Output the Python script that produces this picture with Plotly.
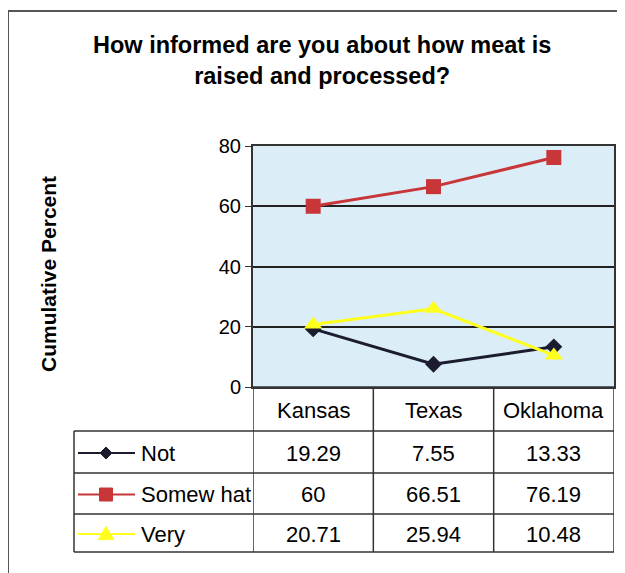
import plotly.graph_objects as go

states = ["Kansas", "Texas", "Oklahoma"]
not_vals = [19.29, 7.55, 13.33]
somewhat_vals = [60, 66.51, 76.19]
very_vals = [20.71, 25.94, 10.48]
series_names = ["Not", "Somew hat", "Very"]
y_ticks = [0, 20, 40, 60, 80]

# the page body has an 8px margin, so the figure is shrunk and shifted to fit the window
OFF = 8
W, H = 625 - OFF, 573 - OFF
FONT = "Liberation Sans, Arial, sans-serif"


def px(x):
    return (x - OFF) / W


def py(y):
    return 1 - (y - OFF) / H


def glyph(symbol, cx, cy, r):
    # small legend key drawn as an svg path in paper units (cx, cy, r in pixels)
    if symbol == "diamond":
        pts = [(cx, cy - r), (cx + r, cy), (cx, cy + r), (cx - r, cy)]
    elif symbol == "square":
        pts = [(cx - r, cy - r), (cx + r, cy - r), (cx + r, cy + r), (cx - r, cy + r)]
    else:
        pts = [(cx, cy - r * 1.1), (cx + r * 1.1, cy + r * 0.8), (cx - r * 1.1, cy + r * 0.8)]
    return "M " + " L ".join(f"{px(x):.5f},{py(y):.5f}" for x, y in pts) + " Z"


series = [
    (series_names[0], not_vals, "#1c1c30", "diamond", 13, 6),
    (series_names[1], somewhat_vals, "#c8363a", "square", 15, 6.5),
    (series_names[2], very_vals, "#ffff1e", "triangle-up", 16, 7),
]

fig = go.Figure()
for name, vals, color, symbol, size, r in series:
    fig.add_trace(go.Scatter(
        x=states, y=vals, name=name, mode="lines+markers",
        line=dict(color=color, width=3),
        marker=dict(symbol=symbol, size=size, color=color),
        showlegend=False, cliponaxis=False
    ))

row_edges = [387, 431, 473, 514, 552]
col_left = 74
shapes = []
annotations = []

# plot background
shapes.append(dict(type="rect", xref="x domain", yref="y domain", x0=0, x1=1, y0=0, y1=1,
                   fillcolor="#dbedf7", line=dict(width=0), layer="below"))

# outer frame
shapes.append(dict(type="line", xref="paper", yref="paper", x0=px(8), x1=1.01, y0=py(11), y1=py(11),
                   line=dict(color="#555", width=2)))
shapes.append(dict(type="line", xref="paper", yref="paper", x0=px(8), x1=px(8), y0=py(11), y1=-0.01,
                   line=dict(color="#555", width=2)))

# table grid
for i, y in enumerate(row_edges):
    x0 = px(253) if i == 0 else px(col_left)
    shapes.append(dict(type="line", xref="paper", yref="paper", x0=x0, x1=px(614), y0=py(y), y1=py(y),
                       line=dict(color="#333", width=1.5)))
shapes.append(dict(type="line", xref="paper", yref="paper", x0=px(col_left), x1=px(col_left),
                   y0=py(row_edges[1]), y1=py(row_edges[-1]), line=dict(color="#333", width=1.5)))
for k in range(len(states) + 1):
    shapes.append(dict(type="line", xref="x", yref="paper", x0=k - 0.5, x1=k - 0.5,
                       y0=py(row_edges[0]), y1=py(row_edges[-1]), line=dict(color="#333", width=1.5)))

cell_font = dict(size=22, color="black", family=FONT)

for s in states:
    annotations.append(dict(x=s, y=py((row_edges[0] + row_edges[1]) / 2 + 1), xref="x", yref="paper",
                            text=s, showarrow=False, font=cell_font, xanchor="center", yanchor="middle"))

for r, (name, vals, color, symbol, size, rad) in enumerate(series):
    ymid = (row_edges[r + 1] + row_edges[r + 2]) / 2 + 1
    for s, v in zip(states, vals):
        annotations.append(dict(x=s, y=py(ymid), xref="x", yref="paper", text=f"{v:g}", showarrow=False,
                                font=cell_font, xanchor="center", yanchor="middle"))
    annotations.append(dict(x=px(139), y=py(ymid), xref="paper", yref="paper", text=name, showarrow=False,
                            xanchor="left", yanchor="middle", font=cell_font))
    shapes.append(dict(type="line", xref="paper", yref="paper", x0=px(78), x1=px(135),
                       y0=py(ymid), y1=py(ymid), line=dict(color=color, width=2)))
    shapes.append(dict(type="path", xref="paper", yref="paper", path=glyph(symbol, 106, ymid, rad),
                       fillcolor=color, line=dict(color=color, width=1)))

annotations.append(dict(x=px(322), y=py(60), xref="paper", yref="paper",
                        text="<b>How informed are you about how meat is<br>raised and processed?</b>",
                        showarrow=False, xanchor="center", yanchor="middle",
                        font=dict(size=23.5, color="black", family=FONT)))
annotations.append(dict(x=px(48), y=py(274), xref="paper", yref="paper", text="<b>Cumulative Percent</b>",
                        textangle=-90, showarrow=False, xanchor="center", yanchor="middle",
                        font=dict(size=21, color="black", family=FONT)))

fig.update_layout(
    width=W, height=H,
    margin=dict(l=0, r=0, t=0, b=0),
    paper_bgcolor="white",
    plot_bgcolor="white",
    font=dict(family=FONT, color="black"),
    xaxis=dict(domain=[px(253), px(614)], range=[-0.5, 2.5], showticklabels=False, ticks="",
               showgrid=False, zeroline=False, showline=True, mirror=True, linecolor="#333", linewidth=2,
               automargin=False),
    yaxis=dict(domain=[py(387), py(146)], range=[0, 80], tickvals=y_ticks, ticks="outside", ticklen=6,
               tickcolor="#333", tickfont=dict(size=20), showgrid=True, gridcolor="#222", gridwidth=1.5,
               zeroline=False, showline=True, mirror=True, linecolor="#333", linewidth=2,
               automargin=False),
    shapes=shapes,
    annotations=annotations,
)

fig.write_html("out.html")
